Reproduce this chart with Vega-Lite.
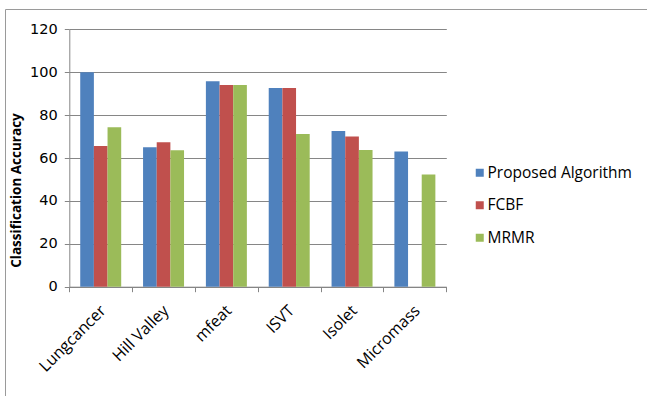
{
  "$schema": "https://vega.github.io/schema/vega-lite/v6.json",
  "width": 643,
  "height": 388,
  "autosize": {"type": "none"},
  "padding": {"left": 5, "top": 9, "right": 0, "bottom": 0},
  "background": "white",
  "config": {
    "view": {"stroke": "#9a9a9a", "strokeWidth": 1},
    "font": "Open Sans"
  },
  "data": {
    "values": [
      {"dataset": "Lungcancer", "method": "Proposed Algorithm", "accuracy": 100},
      {"dataset": "Lungcancer", "method": "FCBF", "accuracy": 65.6},
      {"dataset": "Lungcancer", "method": "MRMR", "accuracy": 74.3},
      {"dataset": "Hill Valley", "method": "Proposed Algorithm", "accuracy": 65.0},
      {"dataset": "Hill Valley", "method": "FCBF", "accuracy": 67.4},
      {"dataset": "Hill Valley", "method": "MRMR", "accuracy": 63.6},
      {"dataset": "mfeat", "method": "Proposed Algorithm", "accuracy": 95.8},
      {"dataset": "mfeat", "method": "FCBF", "accuracy": 94.0},
      {"dataset": "mfeat", "method": "MRMR", "accuracy": 94.0},
      {"dataset": "ISVT", "method": "Proposed Algorithm", "accuracy": 92.6},
      {"dataset": "ISVT", "method": "FCBF", "accuracy": 92.6},
      {"dataset": "ISVT", "method": "MRMR", "accuracy": 71.2},
      {"dataset": "Isolet", "method": "Proposed Algorithm", "accuracy": 72.6},
      {"dataset": "Isolet", "method": "FCBF", "accuracy": 70.0},
      {"dataset": "Isolet", "method": "MRMR", "accuracy": 63.7},
      {"dataset": "Micromass", "method": "Proposed Algorithm", "accuracy": 63.0},
      {"dataset": "Micromass", "method": "MRMR", "accuracy": 52.3}
    ]
  },
  "mark": {"type": "bar"},
  "encoding": {
    "x": {
      "field": "dataset",
      "type": "nominal",
      "sort": ["Lungcancer", "Hill Valley", "mfeat", "ISVT", "Isolet", "Micromass"],
      "scale": {"range": [64.3, 441.3], "paddingInner": 0, "paddingOuter": 0},
      "axis": {
        "title": null,
        "offset": -110.3,
        "tickBand": "extent",
        "tickSize": 5,
        "tickColor": "#868686",
        "domainColor": "#868686",
        "labelAngle": -45,
        "labelAlign": "right",
        "labelBaseline": "middle",
        "labelPadding": 16,
        "labelOffset": 2,
        "labelFontSize": 16,
        "labelColor": "#000000",
        "labelFont": "Open Sans"
      }
    },
    "xOffset": {
      "field": "method",
      "type": "nominal",
      "sort": ["Proposed Algorithm", "FCBF", "MRMR"],
      "scale": {"paddingInner": 0, "paddingOuter": 0.8}
    },
    "y": {
      "field": "accuracy",
      "type": "quantitative",
      "scale": {"domain": [0, 120], "range": [277.7, 20.3], "nice": false, "zero": true},
      "axis": {
        "title": "Classification Accuracy",
        "offset": -64.3,
        "values": [0, 20, 40, 60, 80, 100, 120],
        "grid": true,
        "gridColor": "#868686",
        "tickColor": "#868686",
        "domainColor": "#868686",
        "tickSize": 5,
        "labelPadding": 7,
        "labelFontSize": 14.5,
        "labelFont": "DejaVu Sans",
        "labelColor": "#000000",
        "titleFontSize": 13.5,
        "titleFontWeight": "bold",
        "titleColor": "#000000",
        "titleX": -53,
        "titleY": 181,
        "titleBaseline": "middle",
        "titleAngle": -90,
        "titleAlign": "center"
      }
    },
    "color": {
      "field": "method",
      "type": "nominal",
      "sort": ["Proposed Algorithm", "FCBF", "MRMR"],
      "scale": {"domain": ["Proposed Algorithm", "FCBF", "MRMR"], "range": ["#4F81BD", "#C0504D", "#9BBB59"]},
      "legend": {
        "title": null,
        "orient": "none",
        "legendX": 467,
        "legendY": 156,
        "padding": 0,
        "symbolType": "square",
        "symbolSize": 64,
        "symbolStrokeWidth": 0,
        "labelFontSize": 15.5,
        "labelColor": "#000000",
        "labelOffset": 0,
        "rowPadding": 15.5
      }
    }
  }
}
